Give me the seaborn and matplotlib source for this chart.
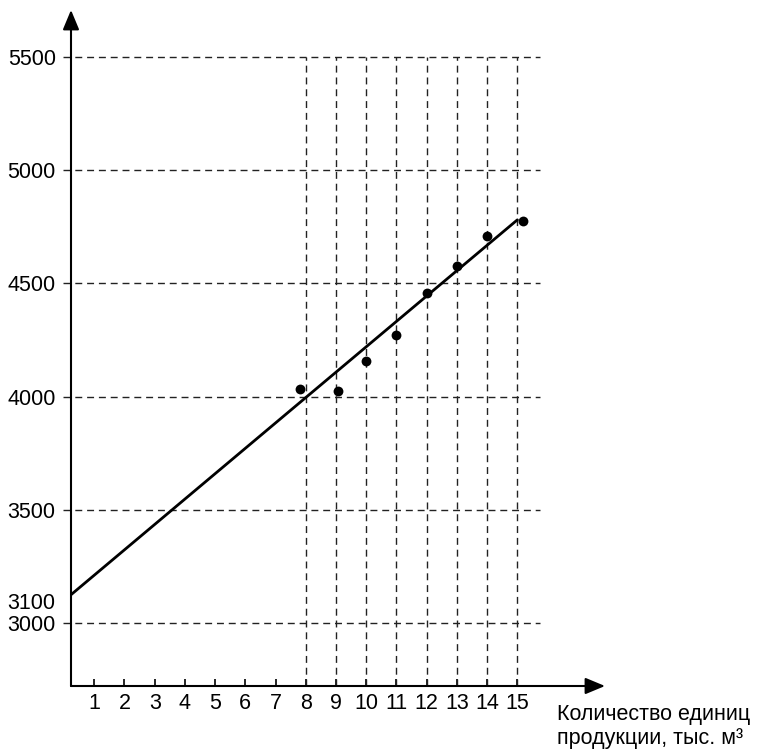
import numpy as np
import pandas as pd
import matplotlib
matplotlib.use("Agg")
import matplotlib.pyplot as plt
import seaborn as sns

# данные
volume = [7.8, 9.05, 10.0, 11.0, 12.0, 13.0, 14.0, 15.2]          # тыс. м3
costs = [4033, 4026, 4156, 4273, 4459, 4578, 4709, 4776]

trend_intercept = 3100
trend_slope = 112

x_ticks = list(range(1, 16))
x_grid = list(range(8, 16))
y_ticks = [3000, 3500, 4000, 4500, 5000, 5500]
y_extra_label = 3100

x_min, x_max = 0.23, 17.9
y_min, y_max = 2723, 5706

sns.set_theme(style="white")
plt.rcParams["font.family"] = ["Liberation Sans", "DejaVu Sans"]

fig = plt.figure(figsize=(7.6, 7.52), dpi=100)
ax = fig.add_axes([71 / 760, 1 - 686 / 752, (605 - 71) / 760, (686 - 10) / 752])

# пунктирная сетка
grid_kw = dict(color="#222222", lw=1.0, linestyles=(0, (5, 3.5)), zorder=1)
ax.hlines(y_ticks, -0.03, 15.75, clip_on=False, **grid_kw)
ax.vlines(x_grid, y_min, 5500, **grid_kw)

# линия тренда
trend_x = np.array([x_min, 15.0])
trend = pd.DataFrame({"x": trend_x, "y": trend_intercept + trend_slope * trend_x})
sns.lineplot(data=trend, x="x", y="y", color="black", lw=2.0, ax=ax, zorder=3)

# точки
pts = pd.DataFrame({"x": volume, "y": costs})
sns.scatterplot(data=pts, x="x", y="y", color="black", s=50, edgecolor="black",
                linewidth=0, ax=ax, zorder=4, clip_on=False)

ax.set_xlim(x_min, x_max)
ax.set_ylim(y_min, y_max)
ax.set_xlabel("")
ax.set_ylabel("")

for s in ["top", "right", "left", "bottom"]:
    ax.spines[s].set_visible(False)

# оси со стрелками
arrow_kw = dict(arrowstyle="-|>,head_length=0.6,head_width=0.25", lw=1.5,
                color="black", shrinkA=0, shrinkB=0, mutation_scale=20)
ax.annotate("", xy=(0, 1), xytext=(0, 0), xycoords="axes fraction",
            arrowprops=arrow_kw, annotation_clip=False)
ax.annotate("", xy=(1, 0), xytext=(0, 0), xycoords="axes fraction",
            arrowprops=arrow_kw, annotation_clip=False)

ax.set_xticks(x_ticks)
ax.set_xticklabels([str(v) for v in x_ticks])
ax.tick_params(axis="x", direction="in", length=5, width=1.2, color="black",
               bottom=True, pad=5, labelsize=15.5, labelcolor="black")

ax.set_yticks(y_ticks + [y_extra_label])
ax.set_yticklabels([str(v) for v in y_ticks + [y_extra_label]])
ax.tick_params(axis="y", length=0, pad=11, labelsize=15.5, labelcolor="black")

fig.text(557 / 760, 1 - 704 / 752, "Количество единиц\nпродукции, тыс. м³",
         ha="left", va="top", fontsize=15.5, linespacing=1.2, color="black")

fig.savefig("out.png", dpi=100)
